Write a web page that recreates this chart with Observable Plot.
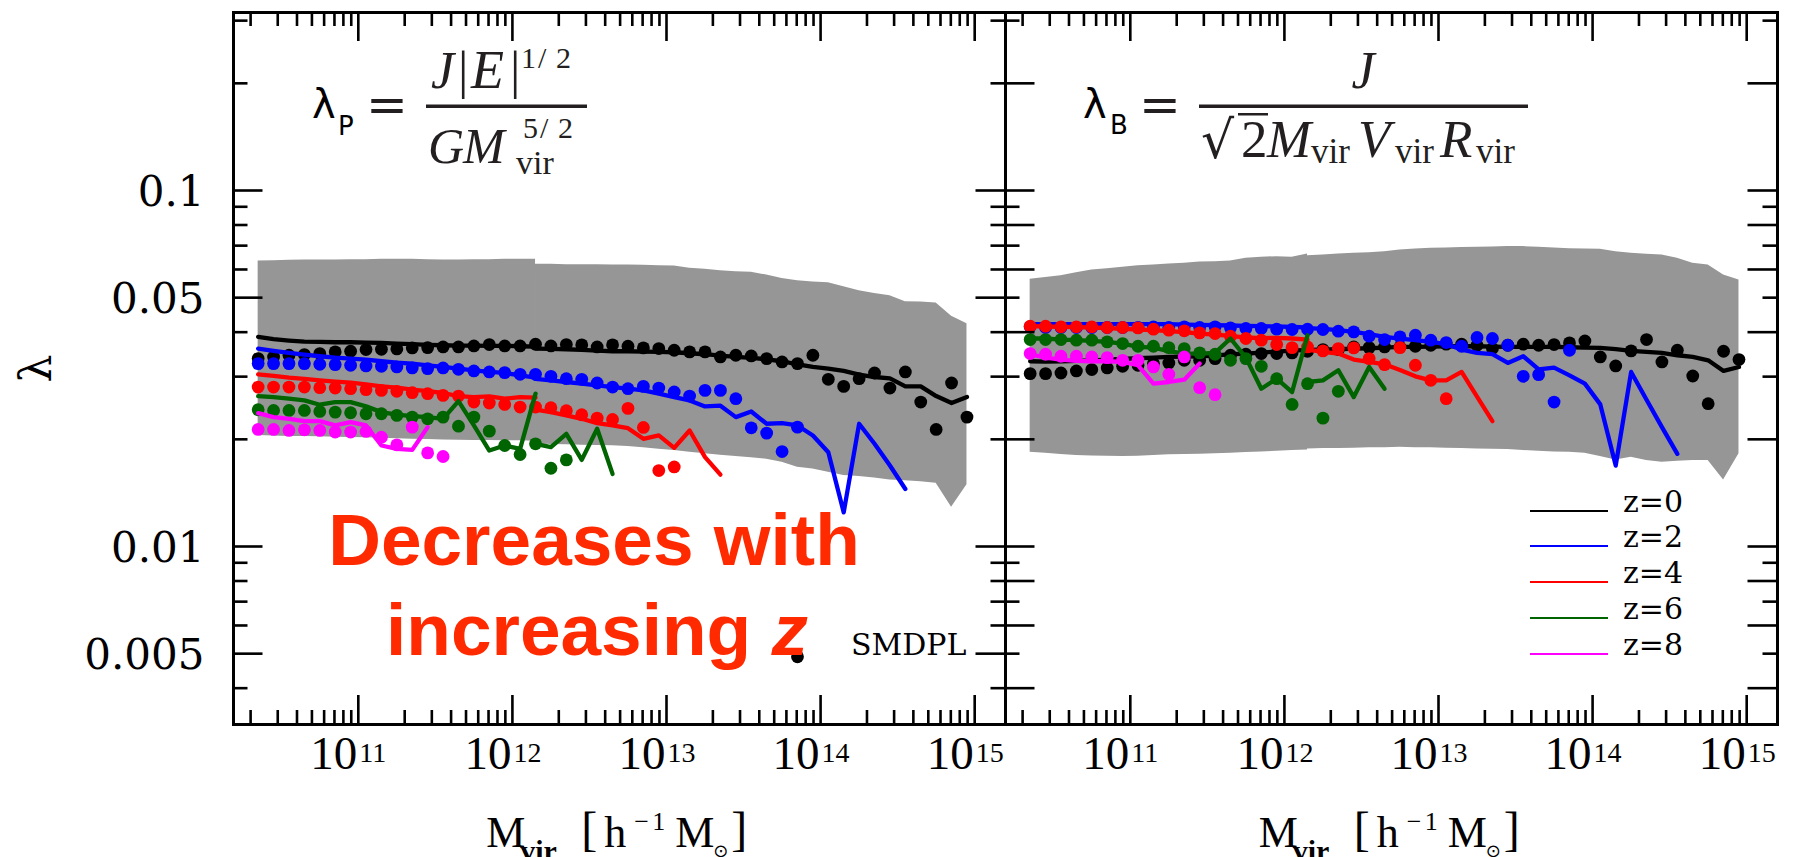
<!DOCTYPE html>
<html><head><meta charset="utf-8">
<script src="https://cdn.jsdelivr.net/npm/d3@7"></script>
<script src="https://cdn.jsdelivr.net/npm/@observablehq/plot@0.6"></script>
<style>
html,body{margin:0;padding:0;background:#fff;overflow:hidden;}
#chart{position:relative;width:1796px;height:857px;overflow:hidden;background:#fff;}
#chart svg{display:block;max-width:none;}
</style></head>
<body><div id="chart"></div>
<script>
// ================= DATA =================
// halo-mass bins, log10(M_vir / h^-1 Msun)
const logMbins = [10.35,10.45,10.55,10.65,10.75,10.85,10.95,11.05,11.15,11.25,11.35,11.45,11.55,11.65,11.75,11.85,11.95,12.05,12.15,12.25,12.35,12.45,12.55,12.65,12.75,12.85,12.95,13.05,13.15,13.25,13.35,13.45,13.55,13.65,13.75,13.85,13.95,14.05,14.15,14.25,14.35,14.45,14.55,14.65,14.75,14.85,14.95];
const seamBin = 18;           // bin where the high-mass run (right part) starts
const zKeys = ["z=0","z=2","z=4","z=6","z=8"];
const zColors = ["#000000","#0000ff","#ff0000","#006400","#ff00ff"];

// ---- left panel: lambda_P (Peebles) ----
const P_dots_z0 = [0.03371,0.03408,0.03445,0.03460,0.03483,0.03521,0.03536,0.03574,0.03582,0.03590,0.03613,0.03620,0.03636,0.03636,0.03660,0.03692,0.03660,0.03660,0.03700,0.03660,0.03692,0.03684,0.03636,0.03684,0.03652,0.03613,0.03597,0.03559,0.03521,0.03521,0.03408,0.03445,0.03430,0.03371,0.03299,0.03264,0.03445,0.02948,0.02817,0.02961,0.03072,0.02787,0.03092,0.02545,0.02132,0.02879,0.02309];
const P_dots_z0_outlier = {logM: 13.85, lam: 0.0049};
const P_dots_z2 = [0.03264,0.03264,0.03264,0.03264,0.03250,0.03243,0.03229,0.03215,0.03208,0.03194,0.03174,0.03160,0.03174,0.03146,0.03113,0.03092,0.03079,0.03046,0.03046,0.03006,0.02961,0.02948,0.02879,0.02805,0.02775,0.02817,0.02787,0.02716,0.02646,0.02745,0.02745,0.02601,0.02155,0.02082,0.01848,0.02164];
const P_dots_z4 = [0.02805,0.02805,0.02805,0.02805,0.02793,0.02787,0.02775,0.02757,0.02745,0.02728,0.02704,0.02687,0.02658,0.02646,0.02545,0.02529,0.02507,0.02464,0.02464,0.02453,0.02406,0.02345,0.02294,0.02275,0.02443,0.02160,0.01634,0.01673];
const P_dots_z6 = [0.02422,0.02411,0.02411,0.02411,0.02395,0.02385,0.02375,0.02360,0.02360,0.02335,0.02309,0.02284,0.02309,0.02178,0.02309,0.02109,0.01922,0.01813,0.01943,0.01659,0.01751];
const P_dots_z8 = [0.02132,0.02132,0.02118,0.02127,0.02118,0.02096,0.02096,0.02105,0.02028,0.01930,0.02164,0.01832,0.01790];

const P_lineLow_z0 = [0.03880,0.03822,0.03789,0.03764,0.03756,0.03748,0.03748,0.03740,0.03732,0.03716,0.03700,0.03684,0.03676,0.03668,0.03668,0.03660,0.03660,0.03652,0.03644];
const P_lineLow_z2 = [0.03597,0.03544,0.03498,0.03460,0.03423,0.03393,0.03371,0.03350,0.03314,0.03285,0.03264,0.03229,0.03194,0.03160,0.03126,0.03092,0.03072,0.03026,0.02980];
const P_lineLow_z4 = [0.03046,0.03013,0.02980,0.02955,0.02929,0.02904,0.02885,0.02855,0.02817,0.02793,0.02757,0.02733,0.02699,0.02646,0.02629,0.02640,0.02601,0.02629,0.02618];
const P_lineLow_z6 = [0.02646,0.02629,0.02601,0.02573,0.02502,0.02545,0.02545,0.02475,0.02385,0.02345,0.02325,0.02309,0.02284,0.02562,0.02188,0.01860,0.01922,0.01880,0.02687];
const P_lineLow_z8 = [0.02370,0.02309,0.02284,0.02250,0.02250,0.02188,0.02236,0.02188,0.01922,0.01880,0.01868,0.02164];
const P_lineHigh_z0 = [0.03597,0.03590,0.03582,0.03567,0.03551,0.03536,0.03536,0.03528,0.03521,0.03513,0.03490,0.03468,0.03438,0.03408,0.03386,0.03357,0.03314,0.03250,0.03194,0.03160,0.03113,0.03039,0.02993,0.02967,0.02817,0.02817,0.02646,0.02529,0.02629];
const P_lineHigh_z2 = [0.02955,0.02929,0.02898,0.02867,0.02836,0.02805,0.02775,0.02745,0.02687,0.02629,0.02573,0.02475,0.02486,0.02309,0.02395,0.02212,0.02222,0.02188,0.02051,0.01840,0.01247,0.02212,0.01943,0.01688,0.01451];
const P_lineHigh_z4 = [0.02422,0.02385,0.02335,0.02284,0.02221,0.02188,0.02150,0.02007,0.02051,0.01893,0.02118,0.01782,0.01592];
const P_lineHigh_z6 = [0.01943,0.01901,0.02073,0.01751,0.02141,0.01599];

const P_bandLow_hi = [0.06338,0.06352,0.06366,0.06380,0.06380,0.06380,0.06393,0.06393,0.06407,0.06407,0.06407,0.06393,0.06380,0.06380,0.06393,0.06393,0.06407,0.06407,0.06407];
const P_bandLow_lo = [0.02051,0.02042,0.02037,0.02037,0.02033,0.02028,0.02024,0.02020,0.02015,0.02006,0.02002,0.01998,0.01993,0.01989,0.01985,0.01985,0.01981,0.01981,0.01976];
const P_bandHigh_hi = [0.06203,0.06203,0.06189,0.06189,0.06189,0.06176,0.06176,0.06163,0.06149,0.06136,0.06044,0.06005,0.05953,0.05914,0.05889,0.05788,0.05664,0.05579,0.05531,0.05507,0.05366,0.05229,0.05139,0.05062,0.04869,0.04858,0.04827,0.04437,0.04221];
const P_bandHigh_lo = [0.01943,0.01935,0.01930,0.01926,0.01922,0.01918,0.01909,0.01893,0.01877,0.01860,0.01840,0.01821,0.01805,0.01790,0.01774,0.01759,0.01725,0.01670,0.01652,0.01616,0.01582,0.01572,0.01558,0.01538,0.01531,0.01521,0.01505,0.01288,0.01492];

// ---- right panel: lambda_B (Bullock) ----
const B_dots_z0 = [0.03059,0.03059,0.03072,0.03113,0.03140,0.03174,0.03208,0.03229,0.03264,0.03278,0.03335,0.03335,0.03371,0.03445,0.03468,0.03483,0.03483,0.03498,0.03536,0.03574,0.03574,0.03636,0.03620,0.03636,0.03636,0.03652,0.03676,0.03700,0.03700,0.03676,0.03597,0.03676,0.03700,0.03676,0.03692,0.03732,0.03780,0.03408,0.03215,0.03544,0.03813,0.03299,0.03559,0.03013,0.02518,0.03536,0.03350];
const B_dots_z2 = [0.04140,0.04122,0.04122,0.04122,0.04122,0.04122,0.04122,0.04122,0.04140,0.04122,0.04140,0.04122,0.04140,0.04113,0.04096,0.04096,0.04078,0.04069,0.04078,0.04069,0.04026,0.04008,0.03897,0.03814,0.03880,0.03922,0.03797,0.03740,0.03652,0.03864,0.03839,0.03676,0.03006,0.03039,0.02545,0.03559];
const B_dots_z4 = [0.04158,0.04158,0.04140,0.04140,0.04140,0.04122,0.04122,0.04113,0.04078,0.04052,0.04035,0.03982,0.03965,0.03897,0.03839,0.03797,0.03692,0.03620,0.03636,0.03544,0.03597,0.03613,0.03371,0.03243,0.03620,0.03229,0.02929,0.02601];
const B_dots_z6 = [0.03814,0.03814,0.03814,0.03797,0.03797,0.03756,0.03716,0.03652,0.03652,0.03620,0.03597,0.03498,0.03468,0.03335,0.03371,0.03208,0.02961,0.02507,0.02867,0.02294,0.02728];
const B_dots_z8 = [0.03483,0.03468,0.03423,0.03423,0.03408,0.03393,0.03335,0.03335,0.03194,0.03046,0.03408,0.02793,0.02670];

const B_lineLow_z0 = [0.03314,0.03307,0.03314,0.03321,0.03335,0.03350,0.03364,0.03379,0.03393,0.03408,0.03416,0.03423,0.03438,0.03468,0.03483,0.03506,0.03528,0.03551,0.03567];
const B_lineLow_z2 = [0.04211,0.04211,0.04211,0.04211,0.04211,0.04211,0.04211,0.04211,0.04211,0.04211,0.04202,0.04194,0.04185,0.04176,0.04167,0.04158,0.04149,0.04140,0.04122];
const B_lineLow_z4 = [0.04158,0.04149,0.04140,0.04131,0.04122,0.04105,0.04087,0.04069,0.04052,0.04026,0.04000,0.03965,0.03939,0.03905,0.03864,0.03847,0.03855,0.03839,0.03814];
const B_lineLow_z6 = [0.03839,0.03839,0.03814,0.03797,0.03781,0.03756,0.03716,0.03636,0.03620,0.03536,0.03483,0.03483,0.03498,0.03839,0.03393,0.02775,0.02961,0.02716,0.03922];
const B_lineLow_z8 = [0.03468,0.03393,0.03350,0.03321,0.03314,0.03314,0.03299,0.03229,0.02867,0.02898,0.02942,0.03264];
const B_lineHigh_z0 = [0.03567,0.03574,0.03582,0.03597,0.03605,0.03620,0.03636,0.03636,0.03644,0.03652,0.03652,0.03652,0.03644,0.03636,0.03636,0.03636,0.03636,0.03628,0.03620,0.03613,0.03582,0.03544,0.03521,0.03498,0.03445,0.03408,0.03335,0.03113,0.03194];
const B_lineHigh_z2 = [0.04105,0.04087,0.04052,0.04008,0.03948,0.03880,0.03839,0.03797,0.03756,0.03700,0.03574,0.03498,0.03468,0.03278,0.03423,0.03146,0.03180,0.03026,0.02867,0.02507,0.01688,0.03092,0.02584,0.02164,0.01821];
const B_lineHigh_z4 = [0.03574,0.03521,0.03483,0.03350,0.03299,0.03250,0.03133,0.03006,0.02929,0.02929,0.03092,0.02635,0.02250];
const B_lineHigh_z6 = [0.02898,0.02929,0.03126,0.02629,0.03194,0.02775];

const B_bandLow_hi = [0.05628,0.05701,0.05763,0.05876,0.05979,0.06031,0.06083,0.06149,0.06176,0.06216,0.06243,0.06297,0.06311,0.06338,0.06449,0.06491,0.06519,0.06491,0.06633];
const B_bandLow_lo = [0.01840,0.01829,0.01813,0.01801,0.01797,0.01794,0.01790,0.01794,0.01801,0.01809,0.01813,0.01817,0.01821,0.01829,0.01836,0.01844,0.01852,0.01860,0.01868];
const B_bandHigh_hi = [0.06561,0.06590,0.06633,0.06661,0.06690,0.06734,0.06807,0.06851,0.06881,0.06896,0.06911,0.06926,0.06941,0.06956,0.06956,0.06926,0.06896,0.06866,0.06851,0.06836,0.06734,0.06661,0.06618,0.06590,0.06449,0.06243,0.06176,0.05788,0.05603];
const B_bandHigh_lo = [0.01880,0.01885,0.01885,0.01889,0.01893,0.01893,0.01901,0.01893,0.01893,0.01889,0.01885,0.01880,0.01877,0.01873,0.01860,0.01852,0.01844,0.01840,0.01829,0.01790,0.01751,0.01782,0.01744,0.01725,0.01736,0.01744,0.01744,0.01538,0.01821];

// ---- axes ----
const xMajorTicks = [1e11, 1e12, 1e13, 1e14, 1e15];
const xTickExponents = ["11", "12", "13", "14", "15"];
const xMinorMultipliers = [2, 3, 4, 5, 6, 7, 8, 9];
const xMinorDecades = [1e10, 1e11, 1e12, 1e13, 1e14];
const yTickValues = [0.3,0.2,0.1,0.09,0.08,0.07,0.06,0.05,0.04,0.03,0.02,0.01,0.009,0.008,0.007,0.006,0.005,0.004];
const P_longYTicks = [0.1,0.05,0.01,0.005];
const B_longYTicks = [0.2,0.1,0.08,0.06,0.04,0.02,0.01,0.008,0.006,0.004];
const yTickLabels = ["0.1","0.05","0.01","0.005"];
const yTickLabelValues = [0.1,0.05,0.01,0.005];

// ================= BUILD =================
const W = 1796, H = 857, mL = 232, mR = 19, mT = 12, mB = 133;
const facetW = (W - mL - mR) / 2, facetH = H - mT - mB;

const panelData = {
  P: {dots: [P_dots_z0,P_dots_z2,P_dots_z4,P_dots_z6,P_dots_z8],
      low: [P_lineLow_z0,P_lineLow_z2,P_lineLow_z4,P_lineLow_z6,P_lineLow_z8],
      high: [P_lineHigh_z0,P_lineHigh_z2,P_lineHigh_z4,P_lineHigh_z6,[]],
      bandLow: [P_bandLow_lo,P_bandLow_hi], bandHigh: [P_bandHigh_lo,P_bandHigh_hi]},
  B: {dots: [B_dots_z0,B_dots_z2,B_dots_z4,B_dots_z6,B_dots_z8],
      low: [B_lineLow_z0,B_lineLow_z2,B_lineLow_z4,B_lineLow_z6,B_lineLow_z8],
      high: [B_lineHigh_z0,B_lineHigh_z2,B_lineHigh_z4,B_lineHigh_z6,[]],
      bandLow: [B_bandLow_lo,B_bandLow_hi], bandHigh: [B_bandHigh_lo,B_bandHigh_hi]}
};

const dotRows = [], lineRows = [], bandRows = [];
for (const panel of ["P", "B"]) {
  const pd = panelData[panel];
  zKeys.forEach((z, k) => {
    pd.dots[k].forEach((v, i) => dotRows.push({panel, z, M: 10 ** logMbins[i], lam: v}));
    pd.low[k].forEach((v, i) => lineRows.push({panel, z, part: "low", M: 10 ** logMbins[i], lam: v}));
    pd.high[k].forEach((v, i) => lineRows.push({panel, z, part: "high", M: 10 ** logMbins[seamBin + i], lam: v}));
  });
  pd.bandLow[0].forEach((lo, i) => bandRows.push({panel, part: "low", M: 10 ** logMbins[i], lo, hi: pd.bandLow[1][i]}));
  pd.bandHigh[0].forEach((lo, i) => bandRows.push({panel, part: "high", M: 10 ** logMbins[seamBin + i], lo, hi: pd.bandHigh[1][i]}));
}
dotRows.push({panel: "P", z: "z=0", M: 10 ** P_dots_z0_outlier.logM, lam: P_dots_z0_outlier.lam});

const xMinorTicks = [];
for (const d of xMinorDecades) for (const m of xMinorMultipliers) {
  const v = m * d;
  if (v > 10 ** 10.19 && v < 10 ** 15.2) xMinorTicks.push(v);
}
const yTickRows = [];
for (const panel of ["P", "B"]) {
  const longs = panel === "P" ? P_longYTicks : B_longYTicks;
  for (const v of yTickValues) yTickRows.push({panel, v, long: longs.includes(v)});
}
const yLongRows = yTickRows.filter(d => d.long), yShortRows = yTickRows.filter(d => !d.long);
const yLabelRows = yTickLabelValues.map((v, i) => ({panel: "P", v, label: yTickLabels[i]}));
const xLabelRows = xMajorTicks.map((v, i) => ({v, e: xTickExponents[i]}));

const tickStyle = {stroke: "black", strokeWidth: 2.6};
const LONG = 30, SHORT = 15;

const marks = [
  Plot.areaY(bandRows, {fx: "panel", x: "M", y1: "lo", y2: "hi", z: "part", fill: "#969696"})
];
zKeys.forEach((z, k) => {
  marks.push(Plot.line(lineRows.filter(d => d.z === z), {fx: "panel", x: "M", y: "lam", z: "part", stroke: zColors[k], strokeWidth: 4.3}));
  marks.push(Plot.dot(dotRows.filter(d => d.z === z), {fx: "panel", x: "M", y: "lam", r: 6.4, fill: zColors[k]}));
});
marks.push(
  Plot.tickX(xMajorTicks, {x: d => d, insetTop: facetH - 29, ...tickStyle}),
  Plot.tickX(xMajorTicks, {x: d => d, insetBottom: facetH - 29, ...tickStyle}),
  Plot.tickX(xMinorTicks, {x: d => d, insetTop: facetH - 14, ...tickStyle}),
  Plot.tickX(xMinorTicks, {x: d => d, insetBottom: facetH - 14, ...tickStyle}),
  Plot.tickY(yLongRows, {fx: "panel", y: "v", insetRight: facetW - LONG, ...tickStyle}),
  Plot.tickY(yLongRows, {fx: "panel", y: "v", insetLeft: facetW - LONG, ...tickStyle}),
  Plot.tickY(yShortRows, {fx: "panel", y: "v", insetRight: facetW - SHORT, ...tickStyle}),
  Plot.tickY(yShortRows, {fx: "panel", y: "v", insetLeft: facetW - SHORT, ...tickStyle}),
  Plot.frame({stroke: "black", strokeWidth: 3}),
  Plot.text(xLabelRows, {x: "v", text: () => "10", frameAnchor: "bottom", textAnchor: "end", dx: -1, dy: 44, fontSize: 47, fontFamily: "'Liberation Serif', serif", fill: "black"}),
  Plot.text(xLabelRows, {x: "v", text: "e", frameAnchor: "bottom", textAnchor: "start", dx: 1, dy: 37, fontSize: 28, fontFamily: "'Liberation Serif', serif", fill: "black"}),
  Plot.text(yLabelRows, {fx: "panel", y: "v", text: "label", frameAnchor: "left", textAnchor: "end", dx: -29, dy: 2, fontSize: 42, fontFamily: "'DejaVu Serif', serif", fill: "black"})
);

const chart = Plot.plot({
  width: W, height: H,
  marginLeft: mL, marginRight: mR, marginTop: mT, marginBottom: mB,
  fx: {domain: ["P", "B"], padding: 0, axis: null, label: null},
  x: {type: "log", domain: [10 ** 10.19, 10 ** 15.2], axis: null},
  y: {type: "log", domain: [10 ** -2.5, 10 ** -0.5], axis: null},
  style: {background: "white", color: "black"},
  marks
});
document.getElementById("chart").appendChild(chart);

// ================= ANNOTATIONS =================
const svgEl = chart.tagName.toLowerCase() === "svg" ? chart : chart.querySelector("svg");
const ann = d3.select(svgEl).append("g").attr("fill", "black").attr("text-anchor", "start");
const SERIF = "'Liberation Serif', serif", DSERIF = "'DejaVu Serif', serif", SANS = "'DejaVu Sans', sans-serif";
function t(x, y, s, size, family, extra = {}) {
  const el = ann.append("text").attr("x", x).attr("y", y).attr("font-size", size).attr("font-family", family)
    .attr("text-anchor", "start").text(s);
  for (const [k, v] of Object.entries(extra)) el.attr(k, v);
  return el;
}
const ink = "#231f20";
// left formula: lambda_P = J|E|^{1/2} / (G M_vir^{5/2})
t(312, 118, "λ", 40, SANS);
t(338, 135, "P", 26, SANS);
t(366, 122, "=", 50, DSERIF, {fill: ink});
ann.append("rect").attr("x", 426).attr("y", 104.5).attr("width", 161).attr("height", 3.5).attr("fill", ink);
t(431, 88, "J", 52, SERIF, {"font-style": "italic", fill: ink});
t(458, 88, "|", 52, SERIF, {fill: ink});
t(471, 88, "E", 54, SERIF, {"font-style": "italic", fill: ink});
t(510, 88, "|", 52, SERIF, {fill: ink});
t(521, 68, "1", 30, SERIF, {fill: ink});
t(538, 68, "/", 30, SERIF, {fill: ink});
t(556, 68, "2", 30, SERIF, {fill: ink});
t(428, 163, "G", 50, SERIF, {"font-style": "italic", fill: ink});
t(463, 163, "M", 50, SERIF, {"font-style": "italic", fill: ink});
t(516, 174, "vir", 34, SERIF, {fill: ink});
t(523, 138, "5", 30, SERIF, {fill: ink});
t(540, 138, "/", 30, SERIF, {fill: ink});
t(558, 138, "2", 30, SERIF, {fill: ink});
// right formula: lambda_B = J / (sqrt2 M_vir V_vir R_vir)
t(1083, 118, "λ", 40, SANS);
t(1110, 134, "B", 26, SANS);
t(1139, 122, "=", 50, DSERIF, {fill: ink});
ann.append("rect").attr("x", 1199).attr("y", 104.5).attr("width", 329).attr("height", 3.5).attr("fill", ink);
t(1363, 88, "J", 52, SERIF, {"font-style": "italic", "text-anchor": "middle", fill: ink});
t(1201, 158, "√", 52, SANS, {fill: ink});
ann.append("rect").attr("x", 1238).attr("y", 113).attr("width", 30).attr("height", 2.5).attr("fill", ink);
t(1241, 157, "2", 53, SERIF, {fill: ink});
t(1267, 157, "M", 53, SERIF, {"font-style": "italic", fill: ink});
t(1311, 163, "vir", 35, SERIF, {fill: ink});
t(1358, 157, "V", 53, SERIF, {"font-style": "italic", fill: ink});
t(1395, 163, "vir", 35, SERIF, {fill: ink});
t(1440, 157, "R", 53, SERIF, {"font-style": "italic", fill: ink});
t(1476, 163, "vir", 35, SERIF, {fill: ink});

// y-axis title
ann.append("text").attr("transform", "translate(35.5,368.5) rotate(-90)").attr("text-anchor", "middle")
  .attr("dy", "0.36em").attr("font-size", 44).attr("font-family", DSERIF).text("λ");

// x-axis titles
function xTitle(c) {
  t(c - 132, 847, "M", 44, SERIF);
  t(c - 98, 861, "vir", 30, SERIF, {"font-weight": "bold"});
  t(c - 37, 845, "[", 48, SERIF);
  t(c - 14, 847, "h", 44, SERIF);
  t(c + 16, 830, "−", 26, SERIF);
  t(c + 34, 830, "1", 26, SERIF);
  t(c + 57, 847, "M", 44, SERIF);
  t(c + 95, 857, "⊙", 18, SANS);
  t(c + 113, 845, "]", 48, SERIF);
}
xTitle(mL + facetW / 2);
xTitle(mL + facetW * 1.5);

// red remark
const redInk = "#ff2a00";
ann.append("text").attr("x", 594).attr("y", 565).attr("text-anchor", "middle").attr("font-family", "'Liberation Sans', Arial, sans-serif")
  .attr("font-weight", "bold").attr("font-size", 73).attr("fill", redInk).text("Decreases with");
const l2 = ann.append("text").attr("x", 597).attr("y", 655).attr("text-anchor", "middle").attr("font-family", "'Liberation Sans', Arial, sans-serif")
  .attr("font-weight", "bold").attr("font-size", 73).attr("fill", redInk);
l2.append("tspan").text("increasing ");
l2.append("tspan").attr("font-style", "italic").text("z");

// simulation label
t(851, 655, "SMDPL", 30, DSERIF);

// legend (right panel)
const legendY = [511, 546, 582, 618, 654];
zKeys.forEach((z, k) => {
  ann.append("line").attr("x1", 1530).attr("x2", 1608).attr("y1", legendY[k]).attr("y2", legendY[k])
    .attr("stroke", zColors[k]).attr("stroke-width", 2);
  t(1623, legendY[k] + 1, z, 30, DSERIF);
});
</script>
</body></html>
